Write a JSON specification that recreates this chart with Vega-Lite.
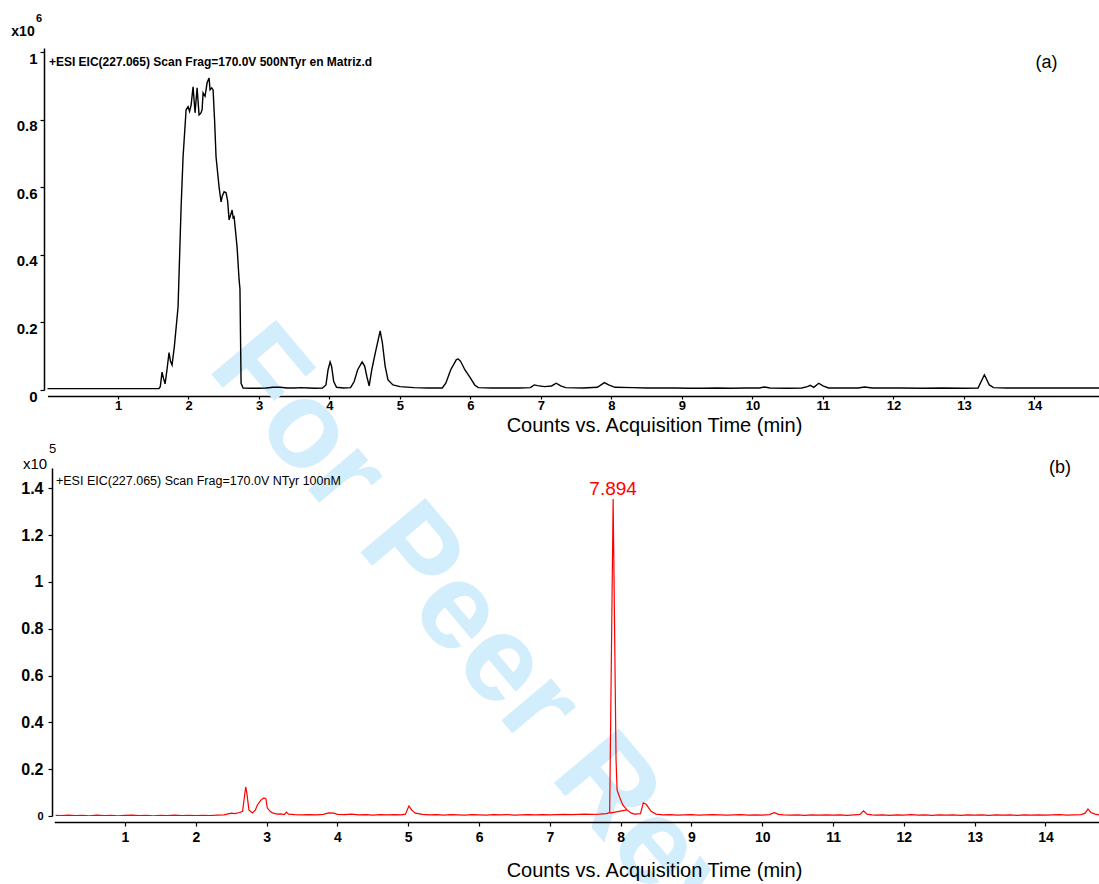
{
  "$schema": "https://vega.github.io/schema/vega-lite/v6.json",
  "background": "white",
  "padding": {"left": 10, "top": 13, "right": 0, "bottom": 0},
  "autosize": {"type": "pad"},
  "bounds": "flush",
  "spacing": 78,
  "config": {
    "font": "Liberation Sans",
    "view": {"stroke": null},
    "axis": {"grid": false, "domainColor": "#000000", "tickColor": "#000000", "labelColor": "#000000", "titleColor": "#000000", "domainWidth": 1.5, "tickWidth": 1.2},
    "title": {"color": "#000000"}
  },
  "datasets": {
    "chromA": [
      {"t": 0.0, "counts": 0.004}, {"t": 0.2, "counts": 0.004}, {"t": 0.4, "counts": 0.004}, {"t": 0.6, "counts": 0.004},
      {"t": 0.8, "counts": 0.004}, {"t": 1.0, "counts": 0.004}, {"t": 1.2, "counts": 0.004}, {"t": 1.4, "counts": 0.004},
      {"t": 1.58, "counts": 0.004}, {"t": 1.6, "counts": 0.01}, {"t": 1.625, "counts": 0.053}, {"t": 1.645, "counts": 0.035},
      {"t": 1.668, "counts": 0.018}, {"t": 1.695, "counts": 0.06}, {"t": 1.724, "counts": 0.111}, {"t": 1.745, "counts": 0.085},
      {"t": 1.767, "counts": 0.074}, {"t": 1.8, "counts": 0.13}, {"t": 1.852, "counts": 0.246}, {"t": 1.895, "counts": 0.54},
      {"t": 1.923, "counts": 0.69}, {"t": 1.966, "counts": 0.83}, {"t": 1.994, "counts": 0.839}, {"t": 2.015, "counts": 0.825},
      {"t": 2.037, "counts": 0.844}, {"t": 2.065, "counts": 0.898}, {"t": 2.093, "counts": 0.821}, {"t": 2.122, "counts": 0.895},
      {"t": 2.15, "counts": 0.815}, {"t": 2.175, "counts": 0.82}, {"t": 2.193, "counts": 0.83}, {"t": 2.207, "counts": 0.88},
      {"t": 2.235, "counts": 0.87}, {"t": 2.264, "counts": 0.91}, {"t": 2.292, "counts": 0.924}, {"t": 2.306, "counts": 0.889},
      {"t": 2.33, "counts": 0.895}, {"t": 2.349, "counts": 0.889}, {"t": 2.37, "counts": 0.8}, {"t": 2.391, "counts": 0.69},
      {"t": 2.434, "counts": 0.601}, {"t": 2.462, "counts": 0.557}, {"t": 2.48, "counts": 0.575}, {"t": 2.505, "counts": 0.587},
      {"t": 2.533, "counts": 0.584}, {"t": 2.555, "counts": 0.56}, {"t": 2.576, "counts": 0.504}, {"t": 2.6, "counts": 0.52},
      {"t": 2.619, "counts": 0.533}, {"t": 2.633, "counts": 0.51}, {"t": 2.647, "counts": 0.513}, {"t": 2.689, "counts": 0.424},
      {"t": 2.718, "counts": 0.326}, {"t": 2.73, "counts": 0.3}, {"t": 2.746, "counts": 0.02}, {"t": 2.775, "counts": 0.006},
      {"t": 2.9, "counts": 0.005}, {"t": 3.0, "counts": 0.005}, {"t": 3.1, "counts": 0.006}, {"t": 3.2, "counts": 0.008},
      {"t": 3.3, "counts": 0.008}, {"t": 3.4, "counts": 0.006}, {"t": 3.5, "counts": 0.006}, {"t": 3.6, "counts": 0.007},
      {"t": 3.7, "counts": 0.006}, {"t": 3.8, "counts": 0.005}, {"t": 3.9, "counts": 0.006}, {"t": 3.95, "counts": 0.015},
      {"t": 3.98, "counts": 0.06}, {"t": 4.009, "counts": 0.083}, {"t": 4.03, "counts": 0.07}, {"t": 4.06, "counts": 0.025},
      {"t": 4.1, "counts": 0.008}, {"t": 4.2, "counts": 0.006}, {"t": 4.3, "counts": 0.007}, {"t": 4.35, "counts": 0.025},
      {"t": 4.4, "counts": 0.06}, {"t": 4.463, "counts": 0.083}, {"t": 4.5, "counts": 0.07}, {"t": 4.53, "counts": 0.04},
      {"t": 4.563, "counts": 0.012}, {"t": 4.6, "counts": 0.06}, {"t": 4.65, "counts": 0.11}, {"t": 4.719, "counts": 0.175},
      {"t": 4.75, "counts": 0.14}, {"t": 4.79, "counts": 0.07}, {"t": 4.83, "counts": 0.03}, {"t": 4.9, "counts": 0.015},
      {"t": 5.0, "counts": 0.01}, {"t": 5.2, "counts": 0.007}, {"t": 5.4, "counts": 0.006}, {"t": 5.6, "counts": 0.006},
      {"t": 5.65, "counts": 0.02}, {"t": 5.72, "counts": 0.06}, {"t": 5.8, "counts": 0.09}, {"t": 5.827, "counts": 0.092},
      {"t": 5.86, "counts": 0.085}, {"t": 5.92, "counts": 0.06}, {"t": 6.0, "counts": 0.035}, {"t": 6.06, "counts": 0.015},
      {"t": 6.11, "counts": 0.007}, {"t": 6.3, "counts": 0.006}, {"t": 6.5, "counts": 0.006}, {"t": 6.7, "counts": 0.006},
      {"t": 6.85, "counts": 0.007}, {"t": 6.905, "counts": 0.015}, {"t": 6.95, "counts": 0.013}, {"t": 7.05, "counts": 0.01},
      {"t": 7.15, "counts": 0.012}, {"t": 7.217, "counts": 0.02}, {"t": 7.28, "counts": 0.012}, {"t": 7.35, "counts": 0.007},
      {"t": 7.6, "counts": 0.006}, {"t": 7.8, "counts": 0.008}, {"t": 7.9, "counts": 0.022}, {"t": 7.96, "counts": 0.015},
      {"t": 8.05, "counts": 0.008}, {"t": 8.3, "counts": 0.007}, {"t": 8.5, "counts": 0.006}, {"t": 8.7, "counts": 0.006},
      {"t": 8.9, "counts": 0.006}, {"t": 9.1, "counts": 0.005}, {"t": 9.3, "counts": 0.005}, {"t": 9.5, "counts": 0.006},
      {"t": 9.7, "counts": 0.005}, {"t": 9.9, "counts": 0.006}, {"t": 10.1, "counts": 0.006}, {"t": 10.17, "counts": 0.009},
      {"t": 10.25, "counts": 0.006}, {"t": 10.5, "counts": 0.005}, {"t": 10.7, "counts": 0.006}, {"t": 10.78, "counts": 0.01},
      {"t": 10.82, "counts": 0.014}, {"t": 10.87, "counts": 0.008}, {"t": 10.94, "counts": 0.02}, {"t": 11.0, "counts": 0.012},
      {"t": 11.08, "counts": 0.006}, {"t": 11.3, "counts": 0.006}, {"t": 11.5, "counts": 0.006}, {"t": 11.59, "counts": 0.009},
      {"t": 11.7, "counts": 0.006}, {"t": 11.9, "counts": 0.006}, {"t": 12.1, "counts": 0.006}, {"t": 12.4, "counts": 0.005},
      {"t": 12.7, "counts": 0.006}, {"t": 13.0, "counts": 0.005}, {"t": 13.2, "counts": 0.006}, {"t": 13.29, "counts": 0.045},
      {"t": 13.36, "counts": 0.015}, {"t": 13.42, "counts": 0.007}, {"t": 13.6, "counts": 0.006}, {"t": 13.9, "counts": 0.006},
      {"t": 14.2, "counts": 0.006}, {"t": 14.5, "counts": 0.006}, {"t": 14.8, "counts": 0.006}, {"t": 14.93, "counts": 0.006}
    ],
    "chromB": [
      {"t": 0.02, "counts": 0.003, "series": "EIC"}, {"t": 0.1, "counts": 0.002, "series": "EIC"}, {"t": 0.2, "counts": 0.004, "series": "EIC"},
      {"t": 0.3, "counts": 0.002, "series": "EIC"}, {"t": 0.4, "counts": 0.003, "series": "EIC"}, {"t": 0.5, "counts": 0.001, "series": "EIC"},
      {"t": 0.6, "counts": 0.004, "series": "EIC"}, {"t": 0.7, "counts": 0.002, "series": "EIC"}, {"t": 0.8, "counts": 0.003, "series": "EIC"},
      {"t": 0.9, "counts": 0.001, "series": "EIC"}, {"t": 1.0, "counts": 0.003, "series": "EIC"}, {"t": 1.1, "counts": 0.004, "series": "EIC"},
      {"t": 1.2, "counts": 0.002, "series": "EIC"}, {"t": 1.3, "counts": 0.003, "series": "EIC"}, {"t": 1.4, "counts": 0.001, "series": "EIC"},
      {"t": 1.5, "counts": 0.003, "series": "EIC"}, {"t": 1.6, "counts": 0.002, "series": "EIC"}, {"t": 1.7, "counts": 0.004, "series": "EIC"},
      {"t": 1.8, "counts": 0.002, "series": "EIC"}, {"t": 1.9, "counts": 0.003, "series": "EIC"}, {"t": 2.0, "counts": 0.002, "series": "EIC"},
      {"t": 2.1, "counts": 0.003, "series": "EIC"}, {"t": 2.2, "counts": 0.002, "series": "EIC"}, {"t": 2.3, "counts": 0.004, "series": "EIC"},
      {"t": 2.4, "counts": 0.005, "series": "EIC"}, {"t": 2.5, "counts": 0.012, "series": "EIC"}, {"t": 2.55, "counts": 0.01, "series": "EIC"},
      {"t": 2.62, "counts": 0.015, "series": "EIC"}, {"t": 2.66, "counts": 0.02, "series": "EIC"}, {"t": 2.69, "counts": 0.09, "series": "EIC"},
      {"t": 2.705, "counts": 0.124, "series": "EIC"}, {"t": 2.72, "counts": 0.1, "series": "EIC"}, {"t": 2.75, "counts": 0.026, "series": "EIC"},
      {"t": 2.8, "counts": 0.013, "series": "EIC"}, {"t": 2.84, "counts": 0.025, "series": "EIC"}, {"t": 2.87, "counts": 0.047, "series": "EIC"},
      {"t": 2.92, "counts": 0.068, "series": "EIC"}, {"t": 2.96, "counts": 0.077, "series": "EIC"}, {"t": 2.99, "counts": 0.074, "series": "EIC"},
      {"t": 3.01, "counts": 0.034, "series": "EIC"}, {"t": 3.05, "counts": 0.02, "series": "EIC"}, {"t": 3.08, "counts": 0.013, "series": "EIC"},
      {"t": 3.15, "counts": 0.008, "series": "EIC"}, {"t": 3.2, "counts": 0.009, "series": "EIC"}, {"t": 3.25, "counts": 0.006, "series": "EIC"},
      {"t": 3.28, "counts": 0.017, "series": "EIC"}, {"t": 3.31, "counts": 0.008, "series": "EIC"}, {"t": 3.4, "counts": 0.006, "series": "EIC"},
      {"t": 3.5, "counts": 0.005, "series": "EIC"}, {"t": 3.6, "counts": 0.006, "series": "EIC"}, {"t": 3.7, "counts": 0.005, "series": "EIC"},
      {"t": 3.8, "counts": 0.007, "series": "EIC"}, {"t": 3.88, "counts": 0.013, "series": "EIC"}, {"t": 3.95, "counts": 0.012, "series": "EIC"},
      {"t": 4.0, "counts": 0.007, "series": "EIC"}, {"t": 4.1, "counts": 0.006, "series": "EIC"}, {"t": 4.2, "counts": 0.008, "series": "EIC"},
      {"t": 4.3, "counts": 0.005, "series": "EIC"}, {"t": 4.4, "counts": 0.006, "series": "EIC"}, {"t": 4.5, "counts": 0.004, "series": "EIC"},
      {"t": 4.6, "counts": 0.006, "series": "EIC"}, {"t": 4.7, "counts": 0.005, "series": "EIC"}, {"t": 4.8, "counts": 0.006, "series": "EIC"},
      {"t": 4.9, "counts": 0.005, "series": "EIC"}, {"t": 4.96, "counts": 0.008, "series": "EIC"}, {"t": 5.01, "counts": 0.043, "series": "EIC"},
      {"t": 5.05, "counts": 0.025, "series": "EIC"}, {"t": 5.1, "counts": 0.012, "series": "EIC"}, {"t": 5.2, "counts": 0.007, "series": "EIC"},
      {"t": 5.3, "counts": 0.005, "series": "EIC"}, {"t": 5.4, "counts": 0.006, "series": "EIC"}, {"t": 5.5, "counts": 0.004, "series": "EIC"},
      {"t": 5.6, "counts": 0.006, "series": "EIC"}, {"t": 5.7, "counts": 0.005, "series": "EIC"}, {"t": 5.8, "counts": 0.004, "series": "EIC"},
      {"t": 5.9, "counts": 0.006, "series": "EIC"}, {"t": 6.0, "counts": 0.005, "series": "EIC"}, {"t": 6.1, "counts": 0.004, "series": "EIC"},
      {"t": 6.2, "counts": 0.006, "series": "EIC"}, {"t": 6.3, "counts": 0.005, "series": "EIC"}, {"t": 6.4, "counts": 0.006, "series": "EIC"},
      {"t": 6.5, "counts": 0.004, "series": "EIC"}, {"t": 6.6, "counts": 0.005, "series": "EIC"}, {"t": 6.7, "counts": 0.006, "series": "EIC"},
      {"t": 6.8, "counts": 0.005, "series": "EIC"}, {"t": 6.9, "counts": 0.006, "series": "EIC"}, {"t": 7.0, "counts": 0.005, "series": "EIC"},
      {"t": 7.1, "counts": 0.006, "series": "EIC"}, {"t": 7.2, "counts": 0.007, "series": "EIC"}, {"t": 7.3, "counts": 0.006, "series": "EIC"},
      {"t": 7.4, "counts": 0.007, "series": "EIC"}, {"t": 7.5, "counts": 0.008, "series": "EIC"}, {"t": 7.6, "counts": 0.007, "series": "EIC"},
      {"t": 7.7, "counts": 0.008, "series": "EIC"}, {"t": 7.8, "counts": 0.01, "series": "EIC"}, {"t": 7.845, "counts": 0.015, "series": "EIC"},
      {"t": 7.894, "counts": 1.355, "series": "EIC"}, {"t": 7.935, "counts": 0.24, "series": "EIC"}, {"t": 7.95, "counts": 0.11, "series": "EIC"},
      {"t": 7.99, "counts": 0.077, "series": "EIC"}, {"t": 8.03, "counts": 0.047, "series": "EIC"}, {"t": 8.09, "counts": 0.026, "series": "EIC"},
      {"t": 8.15, "counts": 0.012, "series": "EIC"}, {"t": 8.2, "counts": 0.008, "series": "EIC"}, {"t": 8.28, "counts": 0.01, "series": "EIC"},
      {"t": 8.32, "counts": 0.056, "series": "EIC"}, {"t": 8.36, "counts": 0.05, "series": "EIC"}, {"t": 8.43, "counts": 0.02, "series": "EIC"},
      {"t": 8.5, "counts": 0.008, "series": "EIC"}, {"t": 8.6, "counts": 0.005, "series": "EIC"}, {"t": 8.7, "counts": 0.006, "series": "EIC"},
      {"t": 8.8, "counts": 0.004, "series": "EIC"}, {"t": 8.9, "counts": 0.005, "series": "EIC"}, {"t": 9.0, "counts": 0.006, "series": "EIC"},
      {"t": 9.1, "counts": 0.004, "series": "EIC"}, {"t": 9.2, "counts": 0.005, "series": "EIC"}, {"t": 9.3, "counts": 0.006, "series": "EIC"},
      {"t": 9.4, "counts": 0.005, "series": "EIC"}, {"t": 9.5, "counts": 0.004, "series": "EIC"}, {"t": 9.6, "counts": 0.005, "series": "EIC"},
      {"t": 9.7, "counts": 0.006, "series": "EIC"}, {"t": 9.8, "counts": 0.004, "series": "EIC"}, {"t": 9.9, "counts": 0.005, "series": "EIC"},
      {"t": 10.0, "counts": 0.004, "series": "EIC"}, {"t": 10.1, "counts": 0.006, "series": "EIC"}, {"t": 10.17, "counts": 0.014, "series": "EIC"},
      {"t": 10.23, "counts": 0.007, "series": "EIC"}, {"t": 10.3, "counts": 0.005, "series": "EIC"}, {"t": 10.4, "counts": 0.004, "series": "EIC"},
      {"t": 10.5, "counts": 0.005, "series": "EIC"}, {"t": 10.6, "counts": 0.003, "series": "EIC"}, {"t": 10.7, "counts": 0.005, "series": "EIC"},
      {"t": 10.8, "counts": 0.004, "series": "EIC"}, {"t": 10.9, "counts": 0.005, "series": "EIC"}, {"t": 11.0, "counts": 0.004, "series": "EIC"},
      {"t": 11.1, "counts": 0.005, "series": "EIC"}, {"t": 11.2, "counts": 0.003, "series": "EIC"}, {"t": 11.3, "counts": 0.005, "series": "EIC"},
      {"t": 11.38, "counts": 0.007, "series": "EIC"}, {"t": 11.43, "counts": 0.022, "series": "EIC"}, {"t": 11.48, "counts": 0.008, "series": "EIC"},
      {"t": 11.55, "counts": 0.005, "series": "EIC"}, {"t": 11.6, "counts": 0.004, "series": "EIC"}, {"t": 11.7, "counts": 0.005, "series": "EIC"},
      {"t": 11.8, "counts": 0.003, "series": "EIC"}, {"t": 11.9, "counts": 0.005, "series": "EIC"}, {"t": 12.0, "counts": 0.004, "series": "EIC"},
      {"t": 12.1, "counts": 0.006, "series": "EIC"}, {"t": 12.2, "counts": 0.004, "series": "EIC"}, {"t": 12.3, "counts": 0.005, "series": "EIC"},
      {"t": 12.4, "counts": 0.003, "series": "EIC"}, {"t": 12.5, "counts": 0.005, "series": "EIC"}, {"t": 12.6, "counts": 0.004, "series": "EIC"},
      {"t": 12.7, "counts": 0.005, "series": "EIC"}, {"t": 12.8, "counts": 0.003, "series": "EIC"}, {"t": 12.9, "counts": 0.005, "series": "EIC"},
      {"t": 13.0, "counts": 0.004, "series": "EIC"}, {"t": 13.1, "counts": 0.005, "series": "EIC"}, {"t": 13.2, "counts": 0.003, "series": "EIC"},
      {"t": 13.3, "counts": 0.005, "series": "EIC"}, {"t": 13.4, "counts": 0.004, "series": "EIC"}, {"t": 13.5, "counts": 0.005, "series": "EIC"},
      {"t": 13.6, "counts": 0.003, "series": "EIC"}, {"t": 13.7, "counts": 0.005, "series": "EIC"}, {"t": 13.8, "counts": 0.004, "series": "EIC"},
      {"t": 13.9, "counts": 0.005, "series": "EIC"}, {"t": 14.0, "counts": 0.004, "series": "EIC"}, {"t": 14.1, "counts": 0.005, "series": "EIC"},
      {"t": 14.2, "counts": 0.006, "series": "EIC"}, {"t": 14.3, "counts": 0.004, "series": "EIC"}, {"t": 14.4, "counts": 0.005, "series": "EIC"},
      {"t": 14.5, "counts": 0.006, "series": "EIC"}, {"t": 14.56, "counts": 0.012, "series": "EIC"}, {"t": 14.6, "counts": 0.03, "series": "EIC"},
      {"t": 14.64, "counts": 0.015, "series": "EIC"}, {"t": 14.7, "counts": 0.008, "series": "EIC"}, {"t": 14.77, "counts": 0.004, "series": "EIC"},
      {"t": 7.845, "counts": 0.012, "series": "integration baseline"}, {"t": 8.09, "counts": 0.026, "series": "integration baseline"}
    ],
    "watermark": [{"t": 2.249, "counts": 0.065, "label": "For Peer Review"}],
    "headerA": [{"t": 0.02, "counts": 0.972, "label": "+ESI EIC(227.065) Scan Frag=170.0V 500NTyr en Matriz.d"}],
    "tagA": [{"t": 14.17, "counts": 0.969, "label": "(a)"}],
    "headerB": [{"t": 0.025, "counts": 1.432, "label": "+ESI EIC(227.065) Scan Frag=170.0V NTyr 100nM"}],
    "tagB": [{"t": 14.206, "counts": 1.487, "label": "(b)"}],
    "peakB": [{"t": 7.894, "counts": 1.355, "label": "7.894"}]
  },
  "vconcat": [
    {
      "width": 1056,
      "height": 342,
      "title": {"text": "6", "orient": "top", "anchor": "start", "frame": "group", "offset": -11, "dx": -8, "baseline": "bottom", "fontSize": 11, "fontWeight": "bold"},
      "encoding": {
        "x": {
          "field": "t", "type": "quantitative",
          "scale": {"domain": [0, 14.93], "rangeMin": 3.5, "nice": false, "zero": false},
          "axis": {
            "values": [1, 2, 3, 4, 5, 6, 7, 8, 9, 10, 11, 12, 13, 14],
            "title": "Counts vs. Acquisition Time (min)",
            "titleFontSize": 20, "titleFontWeight": "normal",
            "titleX": 610, "titleY": 29, "titleAlign": "center", "titleBaseline": "middle",
            "labelFontSize": 13, "labelFontWeight": "bold",
            "offset": 6, "tickSize": 3, "labelPadding": 0
          }
        },
        "y": {
          "field": "counts", "type": "quantitative",
          "scale": {"domain": [0, 1.013], "nice": false},
          "axis": {
            "values": [0, 0.2, 0.4, 0.6, 0.8, 1], "format": "~g",
            "title": "x10", "titleAngle": 0, "titleX": -21.5, "titleY": -17,
            "titleAlign": "center", "titleBaseline": "middle",
            "titleFontSize": 14, "titleFontWeight": "bold",
            "labelFontSize": 15, "labelFontWeight": "bold", "labelOffset": 6,
            "tickSize": 4, "labelPadding": 3, "offset": 0
          }
        }
      },
      "layer": [
        {
          "data": {"name": "watermark"},
          "mark": {"type": "text", "angle": 50, "align": "left", "baseline": "alphabetic", "fontSize": 123, "fontWeight": "bold", "color": "#d2edfb", "clip": false},
          "encoding": {"text": {"field": "label"}}
        },
        {
          "data": {"name": "chromA"},
          "mark": {"type": "line", "color": "#000000", "strokeWidth": 1.4, "clip": true}
        },
        {
          "data": {"name": "headerA"},
          "mark": {"type": "text", "align": "left", "baseline": "middle", "fontSize": 12, "fontWeight": "bold", "color": "#000000"},
          "encoding": {"text": {"field": "label"}}
        },
        {
          "data": {"name": "tagA"},
          "mark": {"type": "text", "align": "center", "baseline": "middle", "fontSize": 18, "color": "#000000"},
          "encoding": {"text": {"field": "label"}}
        }
      ]
    },
    {
      "width": 1056,
      "height": 348,
      "title": {"text": "5", "orient": "top", "anchor": "start", "frame": "group", "offset": -13, "dx": 5, "baseline": "bottom", "fontSize": 13, "fontWeight": "normal"},
      "encoding": {
        "x": {
          "field": "t", "type": "quantitative",
          "scale": {"domain": [0, 14.77], "rangeMin": 10.2, "nice": false, "zero": false},
          "axis": {
            "values": [1, 2, 3, 4, 5, 6, 7, 8, 9, 10, 11, 12, 13, 14],
            "title": "Counts vs. Acquisition Time (min)",
            "titleFontSize": 20, "titleFontWeight": "normal",
            "titleX": 610, "titleY": 48, "titleAlign": "center", "titleBaseline": "middle",
            "labelFontSize": 14, "labelFontWeight": "bold",
            "offset": 6, "tickSize": 4, "labelPadding": 4
          }
        },
        "y": {
          "field": "counts", "type": "quantitative",
          "scale": {"domain": [0, 1.487], "nice": false},
          "axis": {
            "values": [0, 0.2, 0.4, 0.6, 0.8, 1, 1.2, 1.4], "format": "~g",
            "title": "x10", "titleAngle": 0, "titleX": -17.5, "titleY": -5,
            "titleAlign": "center", "titleBaseline": "middle",
            "titleFontSize": 15, "titleFontWeight": "normal",
            "labelFontSize": {"condition": {"test": "datum.value === 0", "value": 11}, "value": 16},
            "labelFontWeight": "bold",
            "tickSize": 4, "labelPadding": 5, "offset": -8
          }
        }
      },
      "layer": [
        {
          "data": {"name": "chromB"},
          "mark": {"type": "line", "color": "#ff0000", "strokeWidth": 1.2, "clip": true},
          "encoding": {"detail": {"field": "series"}}
        },
        {
          "data": {"name": "headerB"},
          "mark": {"type": "text", "align": "left", "baseline": "middle", "fontSize": 12.5, "color": "#000000"},
          "encoding": {"text": {"field": "label"}}
        },
        {
          "data": {"name": "tagB"},
          "mark": {"type": "text", "align": "center", "baseline": "middle", "fontSize": 18, "color": "#000000"},
          "encoding": {"text": {"field": "label"}}
        },
        {
          "data": {"name": "peakB"},
          "mark": {"type": "text", "align": "center", "baseline": "alphabetic", "fontSize": 19, "color": "#ff0000", "dy": -4},
          "encoding": {"text": {"field": "label"}}
        }
      ]
    }
  ]
}
